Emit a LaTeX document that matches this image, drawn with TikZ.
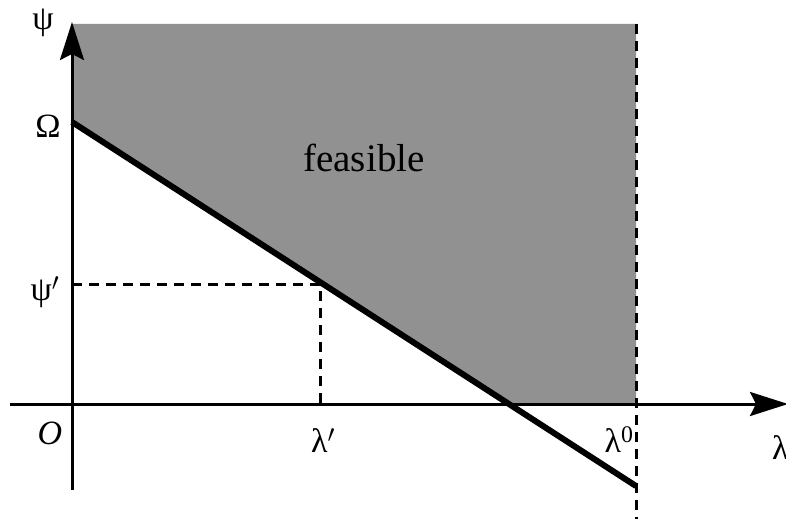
\documentclass[tikz,border=0pt]{standalone}
\usepackage{fontspec}
\setmainfont{Liberation Serif}
\usetikzlibrary{arrows.meta}
\begin{document}
\begin{tikzpicture}[x=1pt,y=-1pt,
  axis/.style={line width=3pt,-{Stealth[length=38pt,width=24pt,inset=6pt]}},
  dashline/.style={line width=3pt,dash pattern=on 10pt off 7pt},
  boundary/.style={line width=6pt},
  lbl/.style={inner sep=0pt,font=\fontsize{34}{40}\selectfont},
  region/.style={fill=black!43,draw=none}]
\useasboundingbox (0,0) rectangle (786,519);
% coordinates
\coordinate (tl) at (73,24);
\coordinate (om) at (72,122);
\coordinate (xi) at (509,404);
\coordinate (l0) at (636,404);
\coordinate (tr) at (636,24);
\coordinate (end) at (636,486);
\coordinate (pp) at (320,284);
\coordinate (py) at (72,284);
\coordinate (px) at (320,404);
\coordinate (dtop) at (636,24);
\coordinate (dbot) at (636,519);
\coordinate (ybot) at (72,490);
\coordinate (ytop) at (72,22);
\coordinate (xl) at (10,404);
\coordinate (xr) at (788,404);
% feasible region
\fill[region] (tl) -- (om) -- (xi) -- (l0) -- (tr) -- cycle;
% dashed guides
\draw[dashline] (dtop) -- (dbot);
\draw[dashline] (py) -- (pp) -- (px);
% axes
\draw[axis] (ybot) -- (ytop);
\draw[axis] (xl) -- (xr);
% constraint line
\draw[boundary] (om) -- (end);
% labels
\node[lbl] (psi) at (43,23) {ψ};
\node[lbl,anchor=base] (omega) at (48,137) {Ω};
\node[lbl,anchor=base] (psip) at (45,300) {ψ$'$};
\node[lbl,anchor=base] (orig) at (50,444) {\itshape O};
\node[lbl,anchor=base] (lamp) at (323,452) {λ$'$};
\node[lbl,anchor=base] (lam0) at (619,452) {λ\textsuperscript{0}};
\node[lbl,anchor=base west] (lam) at (772,459) {λ};
\node[lbl,anchor=base,font=\fontsize{39}{46}\selectfont] (feas) at (364,171) {feasible};
\end{tikzpicture}
\end{document}
